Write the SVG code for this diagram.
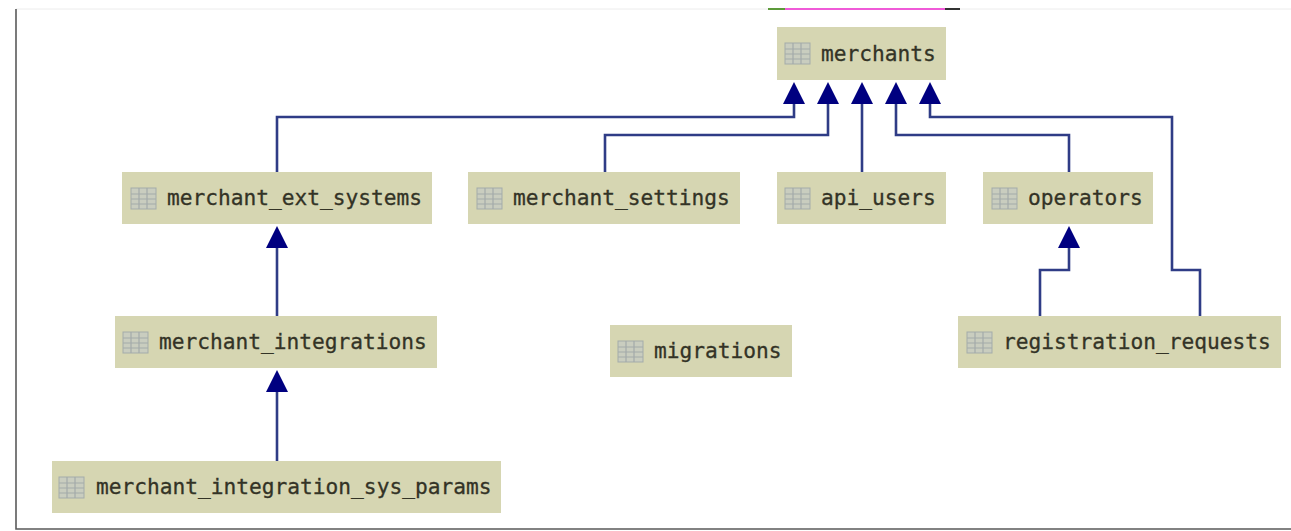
<svg xmlns="http://www.w3.org/2000/svg" width="1291" height="531" viewBox="0 0 1291 531">
<style>
.box{fill:#d6d6b2}
.lbl{font-family:"DejaVu Sans Mono","Liberation Mono",monospace;font-size:21.2px;fill:#333326;stroke:#333326;stroke-width:.3}
.ic{fill:#c9cdbf;stroke:#a3abaa;stroke-width:1}
.icl{stroke:#a3abaa;stroke-width:1.2;fill:none}
.c{fill:none;stroke:#2f3c86;stroke-width:2.6}
.a{fill:#000080}
</style>
<defs>
<g id="icon"><rect class="ic" x="0" y="0" width="25" height="21"/><path class="icl" d="M0 6H25M0 11H25M0 16H25M8 0V21M16 0V21"/></g>
</defs>
<rect width="1291" height="531" fill="#fff"/>
<g id="frame">
<path d="M16 9H1291" stroke="#ececec" stroke-width="1" fill="none"/>
<path d="M16 9V529H1291" stroke="#5a5a5a" stroke-width="1.6" fill="none"/>
<path d="M768 9H785" stroke="#5c9a3a" stroke-width="2"/>
<path d="M785 9H945" stroke="#f05ad8" stroke-width="2"/>
<path d="M945 9H960" stroke="#333" stroke-width="2"/>
</g>
<g id="connectors">
<path class="c" d="M277 172V117H794V100"/>
<path class="c" d="M605 172V135H828V100"/>
<path class="c" d="M862 172V100"/>
<path class="c" d="M1069 172V135H896V100"/>
<path class="c" d="M1200 316V270H1172V117H930V100"/>
<path class="c" d="M1040 316V270H1069V245"/>
<path class="c" d="M277 316V245"/>
<path class="c" d="M277 461V390"/>
<path class="a" d="M794 82L805 104H783Z"/>
<path class="a" d="M828 82L839 104H817Z"/>
<path class="a" d="M862 82L873 104H851Z"/>
<path class="a" d="M896 82L907 104H885Z"/>
<path class="a" d="M930 82L941 104H919Z"/>
<path class="a" d="M277 226L288 248H266Z"/>
<path class="a" d="M1069 226L1080 248H1058Z"/>
<path class="a" d="M277 370L288 392H266Z"/>
</g>
<g id="merchants"><rect class="box" x="777" y="27" width="169" height="53"/><use href="#icon" x="785" y="43"/><text class="lbl" x="821" y="61">merchants</text></g>
<g id="merchant_ext_systems"><rect class="box" x="122" y="172" width="310" height="52"/><use href="#icon" x="131" y="188"/><text class="lbl" x="167" y="205">merchant_ext_systems</text></g>
<g id="merchant_settings"><rect class="box" x="468" y="172" width="272" height="52"/><use href="#icon" x="477" y="188"/><text class="lbl" x="513" y="205">merchant_settings</text></g>
<g id="api_users"><rect class="box" x="777" y="172" width="169" height="52"/><use href="#icon" x="785" y="188"/><text class="lbl" x="821" y="205">api_users</text></g>
<g id="operators"><rect class="box" x="983" y="172" width="170" height="52"/><use href="#icon" x="992" y="188"/><text class="lbl" x="1028" y="205">operators</text></g>
<g id="merchant_integrations"><rect class="box" x="115" y="316" width="322" height="52"/><use href="#icon" x="123" y="332"/><text class="lbl" x="159" y="349">merchant_integrations</text></g>
<g id="migrations"><rect class="box" x="610" y="325" width="182" height="52"/><use href="#icon" x="618" y="341"/><text class="lbl" x="654" y="358">migrations</text></g>
<g id="registration_requests"><rect class="box" x="958" y="316" width="323" height="52"/><use href="#icon" x="967" y="332"/><text class="lbl" x="1003" y="349">registration_requests</text></g>
<g id="merchant_integration_sys_params"><rect class="box" x="52" y="461" width="449" height="52"/><use href="#icon" x="59" y="477"/><text class="lbl" x="96" y="494">merchant_integration_sys_params</text></g>
</svg>
